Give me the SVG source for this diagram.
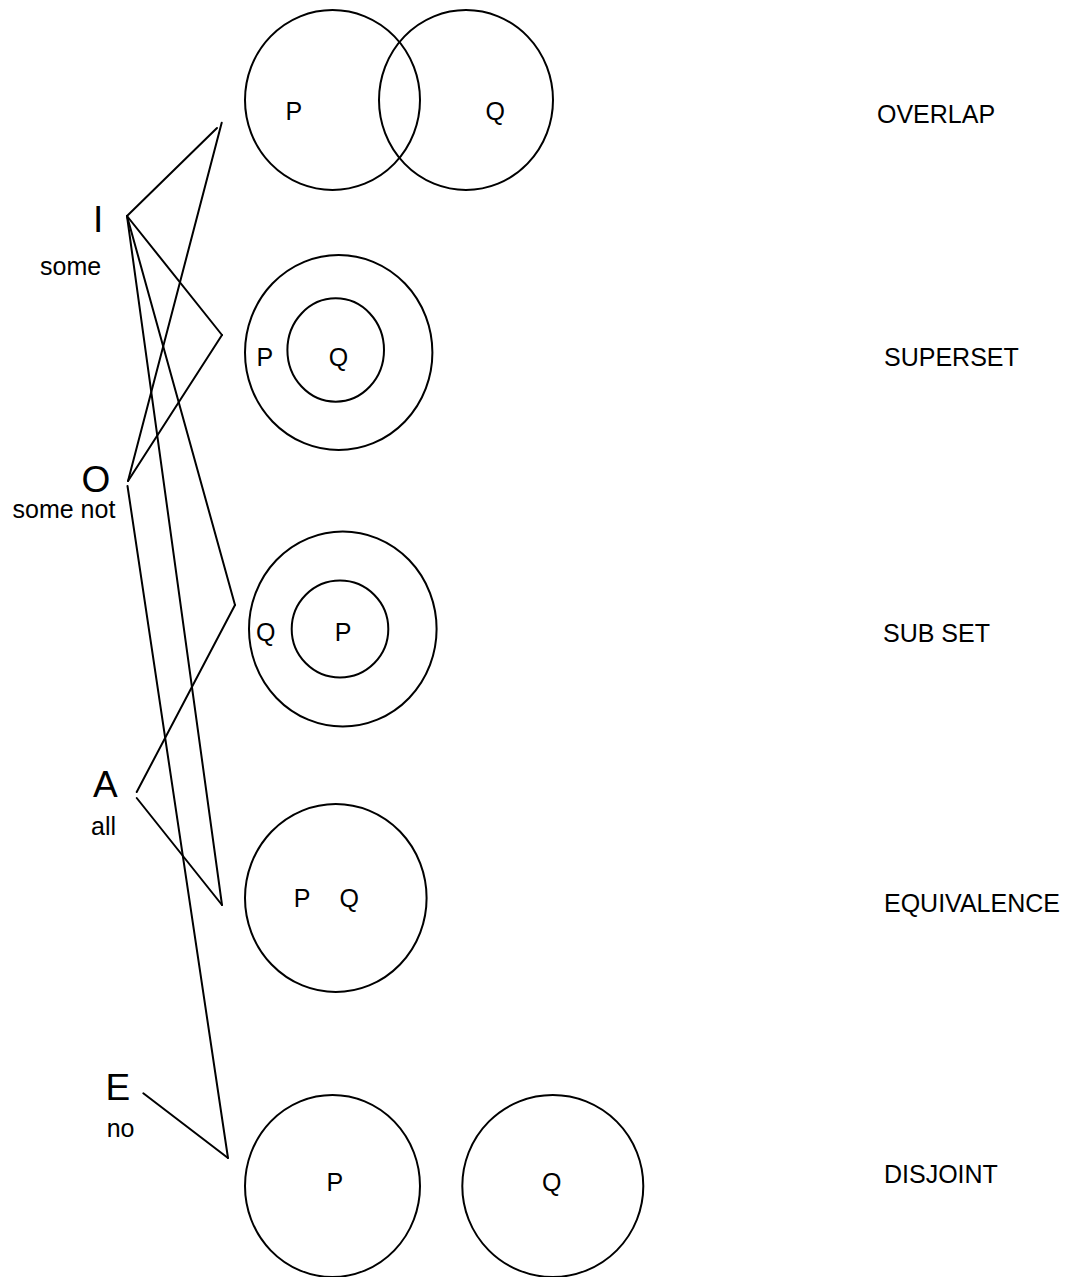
<svg xmlns="http://www.w3.org/2000/svg" width="1071" height="1277" viewBox="0 0 1071 1277">
<style>
.c{fill:none;stroke:#000;stroke-width:2}
.l{fill:none;stroke:#000;stroke-width:2;stroke-linecap:round}
.t{font-family:"Liberation Sans",Arial,sans-serif;font-size:25px;fill:#000}
.b{font-family:"Liberation Sans",Arial,sans-serif;font-size:37px;fill:#000}
</style>
<rect width="1071" height="1277" fill="#fff"/>
<g id="connectors">
<line class="l" x1="127" y1="216" x2="217" y2="128"/>
<line class="l" x1="127" y1="216" x2="222" y2="335"/>
<line class="l" x1="127" y1="216" x2="235" y2="605"/>
<line class="l" x1="127" y1="216" x2="222" y2="905"/>
<line class="l" x1="128" y1="481" x2="221.7" y2="122.7"/>
<line class="l" x1="128" y1="481" x2="222" y2="335"/>
<line class="l" x1="127.5" y1="486" x2="228" y2="1158"/>
<line class="l" x1="136.7" y1="792" x2="235" y2="605"/>
<line class="l" x1="136.7" y1="798" x2="222" y2="905"/>
<line class="l" x1="143.3" y1="1093.3" x2="228" y2="1158"/>
</g>
<g id="I"><text class="b" x="93" y="231.7">I</text><text class="t" x="40" y="275">some</text></g>
<g id="O"><text class="b" x="81.5" y="491.7">O</text><text class="t" x="12.5" y="518">some not</text></g>
<g id="A"><text class="b" x="93" y="796.7">A</text><text class="t" x="91" y="835">all</text></g>
<g id="E"><text class="b" x="105.4" y="1100">E</text><text class="t" x="106.7" y="1137">no</text></g>
<g id="overlap">
<ellipse class="c" cx="332.5" cy="100" rx="87.5" ry="90"/>
<ellipse class="c" cx="466" cy="100" rx="87" ry="90"/>
<text class="t" x="285.4" y="120">P</text>
<text class="t" x="485.5" y="120">Q</text>
<text class="t" x="877" y="123">OVERLAP</text>
</g>
<g id="superset">
<ellipse class="c" cx="338.7" cy="352.5" rx="93.7" ry="97.5"/>
<ellipse class="c" cx="335.7" cy="350" rx="48.3" ry="51.7"/>
<text class="t" x="256.4" y="366">P</text>
<text class="t" x="328.8" y="366">Q</text>
<text class="t" x="884" y="366">SUPERSET</text>
</g>
<g id="subset">
<ellipse class="c" cx="342.8" cy="629" rx="93.8" ry="97.5"/>
<ellipse class="c" cx="340" cy="629" rx="48.3" ry="48.5"/>
<text class="t" x="256" y="641">Q</text>
<text class="t" x="334.8" y="641">P</text>
<text class="t" x="883" y="642">SUB SET</text>
</g>
<g id="equivalence">
<ellipse class="c" cx="335.8" cy="898" rx="90.8" ry="94"/>
<text class="t" x="293.8" y="907">P</text>
<text class="t" x="339.5" y="907">Q</text>
<text class="t" x="884" y="912">EQUIVALENCE</text>
</g>
<g id="disjoint">
<ellipse class="c" cx="332.5" cy="1186" rx="87.5" ry="91"/>
<ellipse class="c" cx="552.8" cy="1186" rx="90.5" ry="91"/>
<text class="t" x="326.4" y="1191">P</text>
<text class="t" x="542" y="1191">Q</text>
<text class="t" x="884" y="1183">DISJOINT</text>
</g>
</svg>
